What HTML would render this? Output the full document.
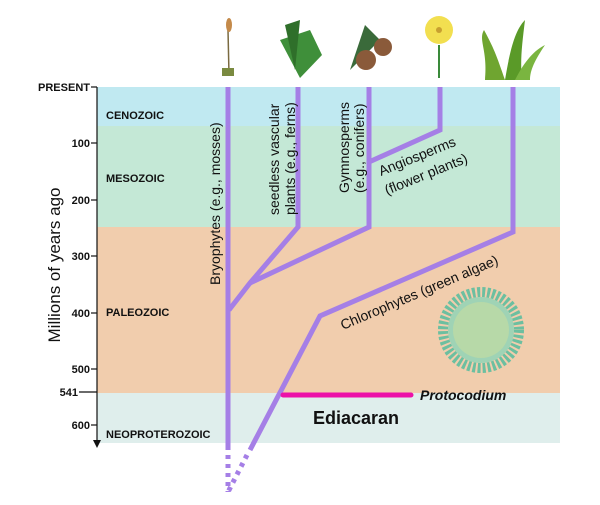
<!DOCTYPE html>
<html><head><style>
body{margin:0;background:#fff;width:600px;height:500px;overflow:hidden}
svg text{font-family:"Liberation Sans",sans-serif}
</style></head><body>
<svg width="600" height="500" viewBox="0 0 600 500">
<rect x="97" y="87" width="463" height="39" fill="#c0e9f1"/>
<rect x="97" y="126" width="463" height="101" fill="#c4e8d6"/>
<rect x="97" y="227" width="463" height="166" fill="#f1cdad"/>
<rect x="97" y="393" width="463" height="50" fill="#dfeeec"/>
<g stroke="#111" stroke-width="1.2">
<line x1="97" y1="87" x2="97" y2="440"/>
<line x1="91" y1="87" x2="97" y2="87"/>
<line x1="91" y1="143" x2="97" y2="143"/>
<line x1="91" y1="200" x2="97" y2="200"/>
<line x1="91" y1="256" x2="97" y2="256"/>
<line x1="91" y1="313" x2="97" y2="313"/>
<line x1="91" y1="369" x2="97" y2="369"/>
<line x1="79" y1="392" x2="97" y2="392"/>
<line x1="91" y1="425" x2="97" y2="425"/>
</g>
<polygon points="93,440 101,440 97,448" fill="#111"/>
<g font-size="11" font-weight="bold" fill="#111" text-anchor="end">
<text x="90" y="91">PRESENT</text>
<text x="90" y="147">100</text>
<text x="90" y="204">200</text>
<text x="90" y="260">300</text>
<text x="90" y="317">400</text>
<text x="90" y="373">500</text>
<text x="78" y="396">541</text>
<text x="90" y="429">600</text>
</g>
<g font-size="11" font-weight="bold" fill="#111">
<text x="106" y="119">CENOZOIC</text>
<text x="106" y="182">MESOZOIC</text>
<text x="106" y="316">PALEOZOIC</text>
<text x="106" y="438">NEOPROTEROZOIC</text>
</g>
<text transform="translate(60,265) rotate(-90)" text-anchor="middle" font-size="17" fill="#111">Millions of years ago</text>
<g fill="none" stroke="#a57fe6" stroke-width="5" stroke-linejoin="miter">
<polyline points="228,87 228,450"/>
<polyline points="298,87 298,227 250,283 229,310"/>
<polyline points="369,87 369,227 250,283"/>
<polyline points="440,87 440,130 369,162"/>
<polyline points="513,87 513,232 320,316 250,450"/>
<line x1="228" y1="455" x2="228" y2="492" stroke-dasharray="4,5"/>
<line x1="247" y1="455" x2="228" y2="492" stroke-dasharray="4,5"/>
</g>
<line x1="283" y1="395" x2="411" y2="395" stroke="#ec12a8" stroke-width="5" stroke-linecap="round"/>
<text x="420" y="400" font-size="14" font-weight="bold" font-style="italic" fill="#111">Protocodium</text>
<text x="313" y="424" font-size="18" font-weight="bold" fill="#111">Ediacaran</text>
<g font-size="14" fill="#111">
<text transform="translate(220,285) rotate(-90)">Bryophytes (e.g., mosses)</text>
<text transform="translate(279,215) rotate(-90)">seedless vascular</text>
<text transform="translate(295,215) rotate(-90)">plants (e.g., ferns)</text>
<text transform="translate(349,193) rotate(-90)">Gymnosperms</text>
<text transform="translate(364,193) rotate(-90)">(e.g., conifers)</text>
<text transform="translate(381,176) rotate(-22)">Angiosperms</text>
<text transform="translate(387,195) rotate(-22)">(flower plants)</text>
<text transform="translate(343,330) rotate(-23)">Chlorophytes (green algae)</text>
</g>
<g transform="translate(481,330)">
<circle r="38" fill="none" stroke="#6cbfa0" stroke-width="10" stroke-dasharray="3,2"/>
<circle r="33" fill="#9fd3b5"/>
<circle r="28" fill="#b7d9a8"/>
</g>
<g>
<line x1="229" y1="75" x2="228" y2="30" stroke="#7a6a40" stroke-width="1.5"/>
<ellipse cx="229" cy="25" rx="3" ry="7" fill="#c48a4a"/>
<rect x="222" y="68" width="12" height="8" fill="#7a8a40"/>
<path d="M300 78 L280 40 L310 30 L322 55 Z" fill="#3f8f3a"/>
<path d="M295 70 L285 25 L300 20 Z" fill="#2f6f2a"/>
<path d="M350 70 L365 25 L380 40 Z" fill="#3a6a3a"/>
<ellipse cx="366" cy="60" rx="10" ry="10" fill="#8a5a3a"/>
<ellipse cx="383" cy="47" rx="9" ry="9" fill="#8a5a3a"/>
<line x1="439" y1="78" x2="439" y2="45" stroke="#3a8a3a" stroke-width="2"/>
<circle cx="439" cy="30" r="14" fill="#f2df50"/>
<circle cx="439" cy="30" r="3" fill="#c8a030"/>
<path d="M485 80 C488 50 478 40 484 30 C495 50 498 60 505 80 Z" fill="#6fa530"/>
<path d="M505 80 C510 50 515 30 525 20 C522 45 520 60 522 80 Z" fill="#5a9a28"/>
<path d="M515 80 C525 60 535 50 545 45 C535 60 530 70 530 80 Z" fill="#7ab540"/>
</g>
</svg>
</body></html>
